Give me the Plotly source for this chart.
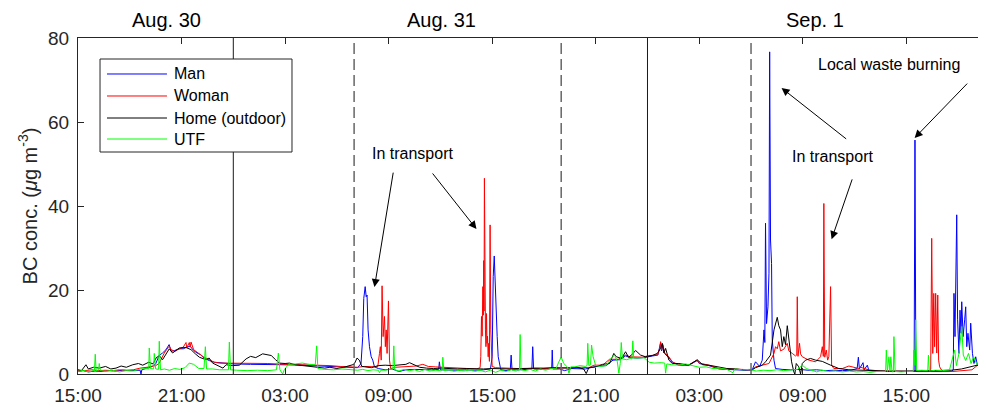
import pandas as pd
import plotly.graph_objects as go

# ---------------- data (hours counted from Aug 30 00:00, BC in ug/m3) ----------------
MAN = [(15.0,0.6),(15.3,0.8),(15.6,0.5),(16.0,0.7),(16.4,0.6),(16.8,0.8),(17.2,0.7),(17.6,0.9),(18.0,0.8),(18.4,0.9),(18.6,0.9),(18.65,0.0),(18.7,1.0),(19.0,1.4),(19.3,1.8),(19.5,2.4),(19.7,4.4),(19.9,5.0),(20.1,5.8),(20.28,7.0),(20.4,5.4),(20.6,5.6),(20.9,6.0),(21.1,6.0),(21.3,6.4),(21.5,6.6),(21.7,5.6),(21.9,5.0),(22.1,4.6),(22.3,3.8),(22.6,3.2),(22.9,2.8),(23.3,2.6),(24.0,2.4),(25.0,2.3),(26.0,2.3),(27.0,2.2),(28.0,2.1),(29.0,1.9),(30.0,1.7),(30.8,1.5),(31.2,1.5),(31.4,2.5),(31.5,8.9),(31.56,18.0),(31.64,20.8),(31.7,18.4),(31.75,18.8),(31.81,10.5),(31.89,6.5),(31.99,4.1),(32.08,3.3),(32.18,1.7),(32.4,1.3),(32.8,1.0),(33.2,1.2),(33.6,0.6),(34.0,1.0),(34.5,1.1),(35.0,1.0),(35.5,1.0),(35.9,1.1),(35.94,2.9),(36.0,1.0),(36.5,0.9),(37.0,0.9),(37.5,1.0),(38.0,0.9),(38.5,1.0),(38.9,1.2),(39.0,4.1),(39.06,23.2),(39.12,28.1),(39.17,20.8),(39.23,13.7),(39.29,8.9),(39.35,4.1),(39.42,2.5),(39.5,1.0),(39.8,0.8),(40.05,1.0),(40.1,4.5),(40.15,1.0),(40.6,1.0),(41.0,1.1),(41.3,1.2),(41.35,6.5),(41.4,1.2),(41.8,1.1),(42.2,1.2),(42.45,1.3),(42.48,5.7),(42.52,1.2),(42.9,1.2),(43.2,0.8),(43.6,1.3),(44.0,1.3),(44.4,1.2),(44.8,1.6),(45.2,1.9),(45.6,2.0),(46.0,3.3),(46.4,3.4),(46.73,4.3),(47.0,3.9),(47.4,3.8),(47.8,3.9),(48.0,4.1),(48.3,4.3),(48.6,4.5),(48.76,7.4),(48.82,5.5),(48.88,6.9),(49.0,4.8),(49.24,3.9),(49.44,2.8),(49.8,2.1),(50.4,2.1),(50.88,3.2),(51.0,2.5),(51.56,2.0),(52.14,1.2),(52.6,1.1),(53.1,1.0),(53.6,0.9),(54.07,1.0),(54.26,2.9),(54.5,1.8),(54.65,3.3),(54.75,10.5),(54.8,7.5),(54.84,35.9),(54.9,12.0),(54.98,16.0),(55.04,24.0),(55.08,76.7),(55.13,31.9),(55.19,26.3),(55.23,8.1),(55.33,3.3),(55.42,1.3),(55.8,1.1),(56.3,1.0),(56.8,1.1),(57.3,0.9),(57.8,1.0),(58.3,0.8),(58.8,0.9),(59.3,0.8),(59.8,0.9),(60.15,1.3),(60.22,4.0),(60.28,1.2),(60.49,2.7),(60.55,1.0),(60.74,2.1),(60.83,0.8),(61.3,0.6),(61.8,0.6),(62.5,0.6),(63.0,0.6),(63.45,0.6),(63.5,55.7),(63.55,0.6),(64.0,0.6),(64.5,0.6),(65.0,0.6),(65.6,0.6),(65.72,1.0),(65.76,19.2),(65.82,8.9),(65.92,37.9),(65.97,12.9),(66.05,4.9),(66.11,15.2),(66.17,9.7),(66.21,17.2),(66.29,8.9),(66.38,12.9),(66.44,16.0),(66.5,6.5),(66.57,9.7),(66.67,5.7),(66.73,12.1),(66.83,4.9),(66.92,2.5),(67.02,4.1),(67.12,2.0),(67.25,3.3),(67.35,18.0),(67.42,8.0),(67.5,14.0)]

WOMAN = [(15.0,0.9),(15.4,0.8),(15.8,1.0),(16.2,0.8),(16.6,0.9),(17.0,0.8),(17.4,1.0),(17.8,0.9),(18.2,1.0),(18.6,1.4),(19.0,1.6),(19.5,2.0),(19.7,2.5),(19.85,3.8),(20.0,5.0),(20.2,6.2),(20.29,6.6),(20.4,5.8),(20.6,5.4),(20.87,6.0),(21.1,6.4),(21.26,7.5),(21.3,6.2),(21.45,7.5),(21.5,6.4),(21.55,7.6),(21.7,5.8),(22.03,4.8),(22.3,4.0),(22.6,3.4),(22.9,2.8),(23.2,2.6),(24.0,2.6),(25.0,2.5),(26.0,2.5),(27.0,2.3),(28.0,2.2),(29.0,2.1),(29.6,2.0),(30.2,1.8),(30.8,1.6),(31.2,1.6),(31.6,1.8),(32.0,1.7),(32.3,1.6),(32.37,1.7),(32.47,4.9),(32.52,6.5),(32.57,3.3),(32.62,21.0),(32.68,8.9),(32.76,13.7),(32.81,6.5),(32.86,10.5),(32.91,4.9),(32.99,17.4),(33.05,3.3),(33.12,1.3),(33.4,1.6),(33.8,1.7),(34.2,1.8),(34.6,1.9),(34.98,2.3),(35.3,1.8),(35.7,1.7),(36.1,1.6),(36.6,1.5),(37.1,1.3),(37.6,1.3),(38.1,1.2),(38.3,1.5),(38.34,4.1),(38.38,13.7),(38.42,9.0),(38.46,20.8),(38.49,14.0),(38.51,27.0),(38.53,15.0),(38.55,46.6),(38.58,16.8),(38.61,10.5),(38.64,6.5),(38.67,14.4),(38.7,7.3),(38.73,9.0),(38.77,4.1),(38.8,7.3),(38.84,3.0),(38.88,35.5),(38.92,10.5),(38.96,3.5),(39.0,1.8),(39.2,1.5),(39.6,1.4),(40.0,1.4),(40.5,1.3),(41.0,1.3),(41.5,1.4),(42.0,1.3),(42.5,1.4),(43.0,1.5),(43.64,1.5),(44.2,1.6),(44.6,1.5),(44.9,2.1),(45.4,2.1),(45.8,3.5),(46.3,3.5),(46.73,4.5),(47.0,4.1),(47.3,4.0),(47.7,4.0),(48.0,4.3),(48.28,4.5),(48.6,4.6),(48.7,6.0),(48.76,7.7),(48.82,5.7),(48.88,7.1),(49.0,5.0),(49.24,4.1),(49.44,2.9),(49.8,2.2),(50.4,2.2),(50.88,3.3),(51.0,2.6),(51.56,2.1),(52.14,1.3),(52.6,1.2),(53.1,1.1),(53.6,1.0),(54.07,1.0),(54.26,1.7),(54.65,2.1),(55.04,2.5),(55.33,4.9),(55.42,6.5),(55.52,6.0),(55.61,7.7),(55.71,5.5),(55.9,5.9),(56.1,7.3),(56.19,5.5),(56.39,4.9),(56.58,4.3),(56.65,4.5),(56.68,18.4),(56.72,4.2),(56.81,7.3),(56.87,4.8),(56.97,4.1),(57.35,3.3),(57.74,2.9),(58.03,4.1),(58.13,6.5),(58.19,4.2),(58.22,40.6),(58.27,4.0),(58.36,5.7),(58.44,3.3),(58.51,4.1),(58.61,20.8),(58.67,2.1),(58.8,1.3),(59.29,1.3),(59.67,1.9),(60.25,1.3),(60.35,1.6),(60.8,1.0),(61.5,0.7),(62.5,0.6),(63.5,0.6),(64.3,0.7),(64.41,1.0),(64.47,32.3),(64.53,4.9),(64.59,19.2),(64.64,6.5),(64.7,19.2),(64.76,5.0),(64.82,18.8),(64.87,3.3),(64.93,1.7),(65.09,0.6),(65.7,0.6),(66.3,0.8),(66.8,1.0),(67.1,2.0),(67.3,2.5),(67.5,3.3)]

HOME = [(15.0,1.0),(15.2,0.8),(15.46,2.2),(15.6,1.2),(15.9,1.6),(16.23,1.4),(16.6,1.8),(16.9,1.2),(17.2,1.4),(17.5,1.9),(17.8,1.6),(18.17,2.2),(18.5,2.5),(18.75,2.1),(19.1,2.8),(19.35,2.4),(19.52,3.8),(19.71,4.4),(19.9,3.4),(20.1,4.8),(20.29,6.0),(20.48,5.0),(20.87,6.2),(21.26,6.3),(21.55,5.8),(21.8,4.8),(22.03,4.0),(22.41,3.4),(22.6,3.8),(22.8,2.6),(23.19,1.8),(23.4,1.4),(23.58,2.2),(23.96,2.0),(24.35,2.1),(24.74,3.6),(25.0,4.2),(25.3,3.9),(25.7,4.8),(25.9,4.6),(26.2,4.4),(26.45,3.4),(26.67,2.6),(27.0,2.5),(27.25,2.6),(27.6,2.2),(27.83,2.1),(28.2,2.0),(28.6,1.8),(29.0,1.6),(29.3,1.4),(29.6,1.6),(30.0,1.3),(30.4,1.6),(30.8,2.0),(31.0,2.3),(31.17,3.8),(31.3,3.3),(31.45,1.8),(31.7,1.6),(32.0,1.5),(32.4,2.0),(32.8,2.1),(33.2,2.0),(33.6,2.1),(34.0,2.3),(34.21,2.7),(34.5,2.2),(34.8,1.6),(35.2,1.4),(35.6,1.3),(36.0,1.4),(36.5,1.3),(37.0,1.2),(37.5,1.3),(38.0,1.2),(38.5,1.2),(39.0,1.3),(39.5,1.2),(40.0,1.2),(40.5,1.3),(41.0,1.3),(41.5,1.4),(42.0,1.4),(42.5,1.5),(43.0,1.5),(43.5,1.4),(43.9,1.6),(44.3,1.2),(44.45,0.1),(44.6,1.5),(45.0,1.7),(45.4,2.3),(45.8,2.5),(46.05,4.9),(46.2,4.1),(46.5,3.7),(46.73,5.3),(46.9,4.0),(47.1,4.6),(47.31,5.6),(47.6,4.5),(47.89,4.1),(48.28,4.4),(48.57,4.9),(48.76,6.1),(48.86,7.3),(48.95,5.0),(49.05,6.1),(49.24,3.3),(49.44,2.5),(49.82,2.5),(50.4,2.1),(50.88,3.4),(51.0,3.0),(51.2,2.2),(51.56,2.1),(52.14,1.6),(52.6,1.3),(53.1,1.2),(53.6,1.0),(54.07,1.0),(54.26,1.5),(54.65,2.1),(54.84,2.9),(55.13,4.5),(55.33,10.5),(55.52,13.5),(55.61,11.5),(55.71,10.5),(55.81,6.5),(55.9,8.9),(56.0,7.0),(56.1,11.5),(56.19,8.1),(56.35,2.9),(56.48,0.5),(56.54,0.0),(56.62,2.5),(56.77,1.7),(56.87,0.0),(56.97,2.5),(57.16,3.3),(57.45,3.7),(57.74,3.3),(58.13,3.0),(58.61,2.1),(59.09,1.3),(59.67,1.0),(60.25,0.9),(61.0,0.8),(62.0,0.7),(63.0,0.7),(64.0,0.8),(65.0,0.8),(65.6,0.9),(66.2,1.2),(66.8,1.8),(67.2,2.3),(67.5,2.5)]

UTF = [(15.0,0.6),(15.3,0.9),(15.6,0.5),(15.9,0.8),(15.95,0.6),(16.0,4.7),(16.05,0.8),(16.2,1.0),(16.23,2.5),(16.3,0.8),(16.6,0.6),(17.0,0.9),(17.4,0.5),(17.8,0.8),(18.2,0.7),(18.6,1.2),(19.0,1.3),(19.1,1.2),(19.13,6.2),(19.2,1.3),(19.38,1.2),(19.42,4.9),(19.5,1.2),(19.67,1.1),(19.71,7.8),(19.78,1.0),(20.0,1.2),(20.3,0.9),(20.6,1.3),(20.9,1.1),(21.2,1.5),(21.45,2.6),(21.7,2.3),(22.0,1.3),(22.3,1.3),(22.38,6.5),(22.45,1.2),(22.8,1.2),(23.2,1.0),(23.6,1.1),(23.72,1.0),(23.77,7.6),(23.84,1.0),(24.2,0.9),(24.8,0.8),(25.4,0.9),(26.0,0.8),(26.5,1.0),(26.61,5.0),(26.7,1.0),(26.86,0.0),(26.95,1.0),(27.2,2.3),(27.6,2.4),(28.0,2.6),(28.4,2.3),(28.75,2.2),(28.83,6.7),(28.9,1.3),(29.3,1.1),(29.8,1.0),(30.3,1.2),(30.8,1.0),(31.2,0.9),(31.5,1.1),(31.8,0.8),(32.1,1.0),(32.4,0.9),(32.47,0.3),(32.55,0.9),(32.8,0.9),(33.1,1.0),(33.25,1.2),(33.3,6.7),(33.35,1.0),(33.6,0.7),(33.9,1.1),(34.2,0.8),(34.5,1.0),(34.8,0.6),(35.1,1.1),(35.4,0.7),(35.7,0.9),(36.0,0.8),(36.1,0.9),(36.14,4.0),(36.2,0.8),(36.5,1.0),(36.8,0.6),(37.1,0.9),(37.4,0.7),(37.7,1.0),(38.0,0.6),(38.3,0.9),(38.6,0.5),(38.9,0.9),(39.2,0.4),(39.5,0.9),(39.8,0.6),(40.1,1.0),(40.4,0.7),(40.58,1.0),(40.62,9.4),(40.67,1.0),(40.9,0.8),(41.2,1.1),(41.5,0.7),(41.8,1.2),(42.1,0.9),(42.4,1.3),(42.7,1.2),(42.85,2.8),(43.0,4.0),(43.15,2.5),(43.35,1.7),(43.45,0.2),(43.55,1.7),(43.8,1.7),(44.1,2.0),(44.4,1.8),(44.5,2.0),(44.54,7.3),(44.6,2.0),(44.7,2.2),(44.76,6.9),(44.85,4.1),(45.0,2.0),(45.3,1.8),(45.6,2.0),(45.9,3.8),(46.1,4.5),(46.25,3.0),(46.34,0.2),(46.42,2.5),(46.48,7.5),(46.55,3.6),(46.8,3.4),(47.0,3.7),(47.1,3.6),(47.15,7.9),(47.2,3.8),(47.5,3.8),(47.8,3.9),(48.1,2.8),(48.4,2.6),(48.8,2.7),(49.0,2.6),(49.05,0.2),(49.12,2.4),(49.4,2.2),(49.8,2.1),(50.2,2.4),(50.6,2.0),(51.0,1.6),(51.4,1.7),(51.8,1.3),(52.2,1.4),(52.6,1.1),(52.95,0.3),(53.05,1.2),(53.5,1.0),(53.9,1.1),(54.3,0.7),(54.7,0.9),(55.1,0.8),(55.5,1.0),(55.9,0.8),(56.3,0.9),(56.7,1.1),(56.97,2.1),(57.2,1.3),(57.5,0.9),(57.8,0.5),(58.1,0.9),(58.5,0.6),(58.9,0.7),(59.3,0.5),(59.7,0.7),(60.1,0.5),(60.5,0.6),(60.9,0.4),(61.3,0.6),(61.7,0.5),(61.8,0.6),(61.84,5.7),(61.9,0.6),(61.99,4.1),(62.05,0.6),(62.1,4.1),(62.17,0.5),(62.25,0.6),(62.28,8.9),(62.35,0.6),(62.7,0.5),(63.1,0.6),(63.4,0.6),(63.44,5.7),(63.5,2.0),(63.54,12.9),(63.6,0.8),(63.9,0.9),(64.24,0.8),(64.28,4.5),(64.33,0.7),(64.7,0.9),(65.1,0.8),(65.5,1.0),(65.8,5.7),(65.9,2.0),(66.05,4.9),(66.21,11.3),(66.3,4.5),(66.44,3.2),(66.6,4.9),(66.75,2.5),(66.9,4.1),(67.1,2.2),(67.25,3.3),(67.5,3.6)]

SERIES_NAMES = ["Man", "Woman", "Home (outdoor)", "UTF"]
SERIES_COLORS = ["#0000ff", "#ff0000", "#000000", "#00ff00"]
DATE_LABELS = ["Aug. 30", "Aug. 31", "Sep. 1"]
DATE_LABEL_HOURS = [20.1, 36.04, 57.68]
MIDNIGHT_HOURS = [24, 48]
PERIOD_HOURS = [31, 43, 54]

START = pd.Timestamp("2016-08-30 00:00")


def ts(h):
    return START + pd.Timedelta(hours=h)


FONT = "Liberation Sans, Arial, Helvetica, sans-serif"
fig = go.Figure()
for name, color, data in zip(SERIES_NAMES, SERIES_COLORS, [MAN, WOMAN, HOME, UTF]):
    fig.add_trace(go.Scatter(
        x=[ts(h) for h, _ in data], y=[v for _, v in data],
        mode="lines", name=name, line=dict(color=color, width=1), showlegend=False))

shapes = []
for h in MIDNIGHT_HOURS:
    shapes.append(dict(type="line", xref="x", yref="paper", x0=ts(h), x1=ts(h), y0=0, y1=1,
                       line=dict(color="#1a1a1a", width=1)))
for h in PERIOD_HOURS:
    shapes.append(dict(type="line", xref="x", yref="paper", x0=ts(h), x1=ts(h), y0=0, y1=1,
                       line=dict(color="#666666", width=1.5, dash="11px,5px")))

annotations = []
for lab, h in zip(DATE_LABELS, DATE_LABEL_HOURS):
    annotations.append(dict(x=ts(h), y=1.054, xref="x", yref="paper", text=lab, showarrow=False,
                            font=dict(size=20, color="#000000", family=FONT), xanchor="center", yanchor="middle"))

texts = [("In transport", 34.38, 52.6), ("In transport", 58.73, 51.7), ("Local waste burning", 61.97, 73.8)]
for t, h, v in texts:
    annotations.append(dict(x=ts(h), y=v, xref="x", yref="y", text=t, showarrow=False,
                            font=dict(size=16, color="#000000", family=FONT)))

arrows = [(33.28, 48.3, 32.18, 20.7), (35.48, 48.1, 38.09, 34.5), (59.6, 55.7, 55.77, 68.1),
          (59.89, 46.7, 58.67, 32.1), (66.61, 69.5, 63.48, 56.2)]
for th, tv, hh, hv in arrows:
    annotations.append(dict(x=ts(hh), y=hv, ax=ts(th), ay=tv, xref="x", yref="y", axref="x", ayref="y",
                            text="", showarrow=True, arrowhead=2, arrowsize=1.6, arrowwidth=1,
                            arrowcolor="#000000"))

# legend box drawn in paper coordinates (MATLAB-style long line samples)
LEG_X0, LEG_X1, LEG_Y0, LEG_Y1 = 0.0243, 0.2362, 0.6607, 0.9375
LEG_ROWS = [0.8929, 0.8274, 0.7619, 0.6994]
shapes.append(dict(type="rect", xref="paper", yref="paper", x0=LEG_X0, x1=LEG_X1, y0=LEG_Y0, y1=LEG_Y1,
                   line=dict(color="#262626", width=1), fillcolor="white", layer="above"))
for name, color, yr in zip(SERIES_NAMES, SERIES_COLORS, LEG_ROWS):
    shapes.append(dict(type="line", xref="paper", yref="paper", x0=0.0320, x1=0.0982, y0=yr, y1=yr,
                       line=dict(color=color, width=1), layer="above"))
    annotations.append(dict(x=0.1038, y=yr, xref="paper", yref="paper", text=name, showarrow=False,
                            xanchor="left", yanchor="middle",
                            font=dict(size=16, color="#000000", family=FONT)))

fig.update_layout(
    template="none",
    width=978, height=405,
    margin=dict(l=70, r=2, t=30, b=39, pad=0),
    paper_bgcolor="white", plot_bgcolor="white",
    font=dict(family=FONT, size=19, color="#262626"),
    showlegend=False,
    shapes=shapes, annotations=annotations,
)
fig.update_xaxes(
    range=[ts(15), ts(67.5)], type="date", automargin=False,
    tick0=ts(3), dtick=6 * 3600 * 1000, tickformat="%H:%M",
    ticks="inside", ticklen=6, tickcolor="#262626", mirror="ticks",
    showline=True, linecolor="#262626", linewidth=1, showgrid=False, zeroline=False,
    ticklabelstandoff=4, tickfont=dict(size=19, color="#262626"))
fig.update_yaxes(
    range=[0, 80], dtick=20, automargin=False,
    ticks="inside", ticklen=6, tickcolor="#262626", mirror="ticks",
    showline=True, linecolor="#262626", linewidth=1, showgrid=False, zeroline=False,
    ticklabelstandoff=4, tickfont=dict(size=19, color="#262626"),
    title=dict(text="BC conc. (<i>μ</i>g m<sup>-3</sup>)", font=dict(size=20, color="#262626"), standoff=5))

fig.write_html("out.html")
